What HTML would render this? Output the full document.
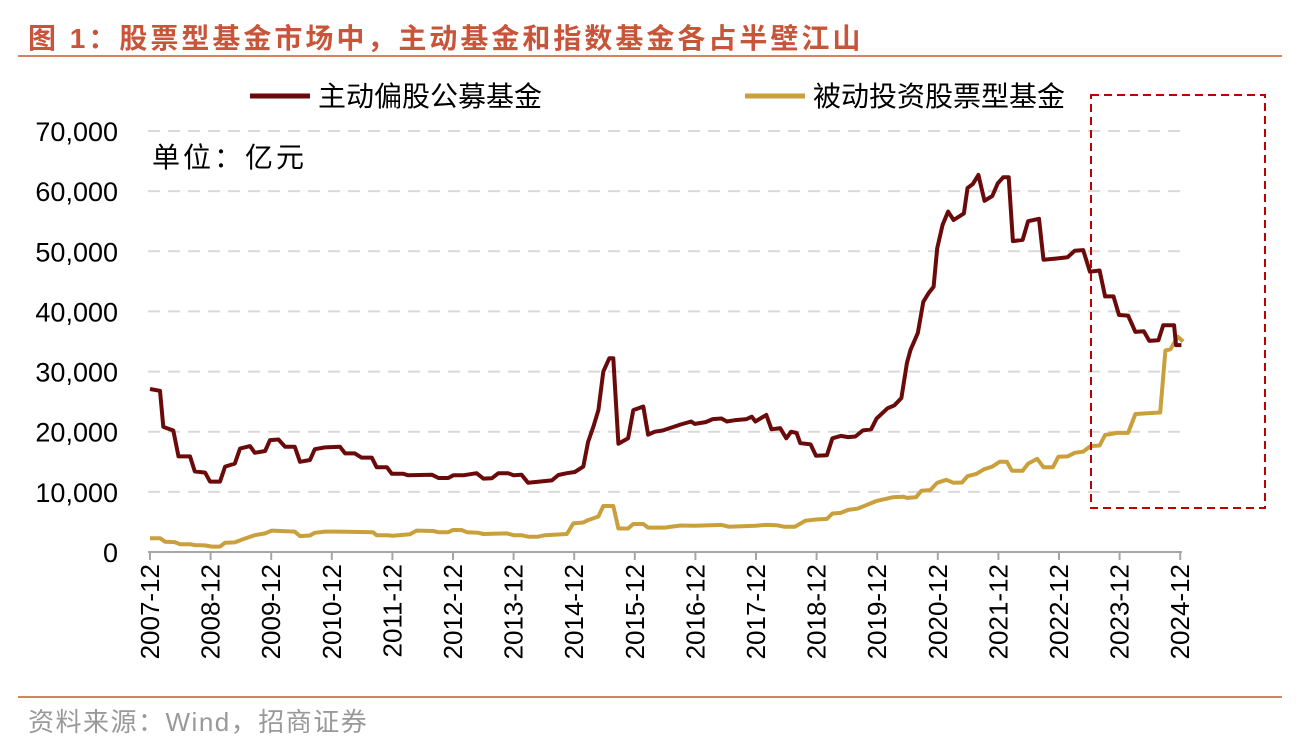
<!DOCTYPE html>
<html><head><meta charset="utf-8">
<style>
html,body{margin:0;padding:0;background:#fff;}
body{width:1298px;height:747px;overflow:hidden;position:relative;font-family:"Liberation Sans","Noto Sans CJK SC",sans-serif;}
#title{position:absolute;left:28px;top:17px;font-size:28px;font-weight:bold;color:#C8553A;letter-spacing:3px;white-space:nowrap;}
.rule{position:absolute;left:18px;width:1264px;height:2px;background:#D4825F;}
#src{position:absolute;left:28px;top:702px;font-size:26px;color:#999;white-space:nowrap;letter-spacing:1.5px;}
svg{position:absolute;left:0;top:0;}
</style></head><body>
<div id="title">图 1：股票型基金市场中，主动基金和指数基金各占半壁江山</div>
<div class="rule" style="top:55px"></div>
<div class="rule" style="top:696px"></div>
<div id="src">资料来源：Wind，招商证券</div>
<svg id="chart" width="1298" height="747"></svg>
<script>
// time in years since 2007-12, values in thousands of 亿元
const activeT=[0,0.165,0.22,0.385,0.47,0.66,0.74,0.91,0.99,1.155,1.24,1.40,1.485,1.65,1.73,1.90,1.98,2.12,2.23,2.39,2.475,2.64,2.72,2.89,3.135,3.22,3.38,3.49,3.66,3.74,3.91,3.99,4.18,4.26,4.65,4.76,4.92,5.005,5.17,5.39,5.50,5.64,5.75,5.91,6.0,6.13,6.24,6.63,6.74,6.88,7.01,7.15,7.23,7.315,7.40,7.48,7.58,7.645,7.73,7.89,7.975,8.14,8.22,8.33,8.46,8.755,8.93,8.99,9.17,9.285,9.43,9.52,9.64,9.845,9.93,9.99,10.17,10.255,10.40,10.50,10.58,10.67,10.73,10.90,10.99,11.17,11.26,11.40,11.52,11.64,11.76,11.90,11.99,12.17,12.285,12.40,12.49,12.55,12.67,12.76,12.845,12.93,12.99,13.08,13.17,13.26,13.43,13.49,13.58,13.67,13.77,13.90,13.99,14.08,14.17,14.24,14.40,14.49,14.67,14.745,14.96,15.14,15.26,15.40,15.51,15.67,15.76,15.90,15.99,16.14,16.26,16.40,16.49,16.64,16.72,16.90,16.93,17.02];
const activeV=[27.1,26.8,20.8,20.2,15.9,15.9,13.4,13.2,11.7,11.7,14.2,14.7,17.2,17.6,16.5,16.8,18.6,18.7,17.5,17.5,15.0,15.3,17.1,17.4,17.5,16.4,16.4,15.7,15.7,14.1,14.1,13.0,13.0,12.75,12.85,12.3,12.3,12.75,12.75,13.1,12.2,12.25,13.1,13.1,12.75,12.85,11.5,11.9,12.8,13.1,13.3,14.2,18.3,20.8,23.6,30.0,32.2,32.2,18.0,18.9,23.6,24.2,19.5,20.0,20.2,21.2,21.7,21.3,21.6,22.1,22.2,21.7,21.9,22.1,22.5,21.7,22.8,20.4,20.6,18.9,20.0,19.8,18.1,17.9,16.0,16.1,18.9,19.3,19.1,19.2,20.2,20.4,22.2,23.9,24.4,25.6,31.4,33.6,36.4,41.6,43.0,44.1,50.5,54.4,56.6,55.2,56.3,60.5,61.2,62.7,58.4,59.2,61.3,62.3,62.3,51.7,51.9,55.0,55.4,48.6,48.8,49.0,50.1,50.2,46.6,46.8,42.5,42.5,39.4,39.3,36.6,36.7,35.1,35.2,37.7,37.7,34.4,34.4];
const passiveT=[0,0.165,0.25,0.41,0.495,0.66,0.74,0.91,1.02,1.155,1.24,1.40,1.54,1.73,1.90,2.01,2.39,2.475,2.64,2.72,2.89,3.135,3.68,3.74,3.91,4.01,4.29,4.40,4.67,4.76,4.92,5.0,5.14,5.23,5.42,5.50,5.89,6.0,6.13,6.24,6.40,6.52,6.88,6.985,7.15,7.23,7.40,7.48,7.645,7.73,7.89,7.975,8.14,8.22,8.49,8.755,8.99,9.43,9.55,9.99,10.17,10.34,10.46,10.64,10.815,10.99,11.17,11.26,11.40,11.52,11.67,11.785,11.99,12.255,12.43,12.49,12.64,12.73,12.875,12.99,13.14,13.26,13.40,13.49,13.64,13.76,13.90,14.02,14.14,14.225,14.40,14.49,14.64,14.745,14.90,14.99,15.14,15.26,15.40,15.52,15.67,15.76,15.96,16.14,16.26,16.67,16.755,16.84,16.96,17.05];
const passiveV=[2.3,2.3,1.7,1.65,1.3,1.3,1.15,1.1,0.9,0.9,1.55,1.6,2.15,2.8,3.1,3.55,3.4,2.65,2.75,3.2,3.4,3.4,3.3,2.8,2.8,2.7,2.95,3.55,3.5,3.3,3.3,3.65,3.65,3.3,3.2,3.0,3.1,2.8,2.8,2.55,2.55,2.8,3.0,4.75,4.9,5.3,5.9,7.65,7.65,3.9,3.9,4.65,4.65,4.05,4.05,4.4,4.35,4.5,4.2,4.35,4.5,4.45,4.2,4.2,5.2,5.4,5.5,6.4,6.5,7.0,7.2,7.65,8.5,9.1,9.2,9.0,9.1,10.2,10.3,11.5,12.0,11.5,11.55,12.6,13.0,13.75,14.2,15.0,15.0,13.5,13.5,14.7,15.5,14.1,14.1,15.85,15.9,16.5,16.7,17.6,17.7,19.45,19.8,19.8,22.95,23.2,33.5,33.7,35.8,35.0];
const xLabels=["2007-12","2008-12","2009-12","2010-12","2011-12","2012-12","2013-12","2014-12","2015-12","2016-12","2017-12","2018-12","2019-12","2020-12","2021-12","2022-12","2023-12","2024-12"];
const yTicks=[0,10000,20000,30000,40000,50000,60000,70000];

const NS="http://www.w3.org/2000/svg";
const svg=document.getElementById('chart');
const X0=150,XW=60.6,Y0=552,YK=421/70000;
function xs(t){return X0+t*XW;}
function ys(v){return Y0-v*YK;}
function mk(tag,attrs,parent){const e=document.createElementNS(NS,tag);for(const k in attrs)e.setAttribute(k,attrs[k]);(parent||svg).appendChild(e);return e;}

yTicks.forEach(v=>{
  if(v>0){
    const g=mk('line',{x1:148,x2:1182,y1:ys(v),y2:ys(v),stroke:'#d9d9d9','stroke-width':2,'stroke-dasharray':'12,8'});
    
    
  }
  const t=mk('text',{x:118,y:ys(v)+10,'text-anchor':'end','font-size':27,fill:'#000','font-family':'Liberation Sans, sans-serif'});
  t.textContent=v.toLocaleString('en-US');
  
  
});
const ax=mk('line',{x1:148,x2:1182,y1:Y0,y2:Y0,stroke:'#a6a6a6','stroke-width':2});


xLabels.forEach((lb,i)=>{
  const x=xs(i);
  const tk=mk('line',{x1:x,x2:x,y1:Y0,y2:Y0+8,stroke:'#a6a6a6','stroke-width':2});
  
  
  const t=mk('text',{transform:`translate(${x+9},${Y0+12}) rotate(-90)`,'text-anchor':'end','font-size':26,fill:'#000','font-family':'Liberation Sans, sans-serif'});
  t.textContent=lb;
  
  
});
function path(T,V){return T.map((t,i)=>(i?'L':'M')+xs(t).toFixed(1)+','+ys(V[i]*1000).toFixed(1)).join('');}
const p2=mk('path',{d:path(passiveT,passiveV),fill:'none',stroke:'#C9A03C','stroke-width':4,'stroke-linejoin':'round'});


const p1=mk('path',{d:path(activeT,activeV),fill:'none',stroke:'#6B0A0A','stroke-width':4,'stroke-linejoin':'round'});



const box=mk('rect',{x:1091,y:95,width:174,height:413,fill:'none',stroke:'#C00000','stroke-width':2,'stroke-dasharray':'8,5'});



const u=mk('text',{x:152,y:167,'font-size':28,'letter-spacing':3,fill:'#000','font-family':'Liberation Sans, Noto Sans CJK SC, sans-serif'});
u.textContent='单位：亿元';



const l1=mk('line',{x1:250,x2:310,y1:96,y2:96,stroke:'#6B0A0A','stroke-width':5});


const lt1=mk('text',{x:318,y:106,'font-size':28,fill:'#000','font-family':'Liberation Sans, Noto Sans CJK SC, sans-serif'});
lt1.textContent='主动偏股公募基金';


const l2=mk('line',{x1:745,x2:805,y1:96,y2:96,stroke:'#C9A03C','stroke-width':5});


const lt2=mk('text',{x:813,y:106,'font-size':28,fill:'#000','font-family':'Liberation Sans, Noto Sans CJK SC, sans-serif'});
lt2.textContent='被动投资股票型基金';


</script>
</body></html>
